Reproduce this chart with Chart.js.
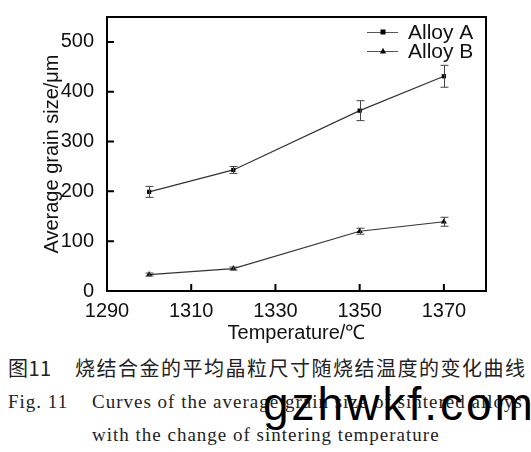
<!DOCTYPE html>
<html>
<head>
<meta charset="utf-8">
<script src="https://cdn.jsdelivr.net/npm/chart.js@4.4.0/dist/chart.umd.min.js"></script>
<style>
  body { margin: 0; background: #fff; width: 531px; height: 452px; position: relative; overflow: hidden; }
  #wrap { position: absolute; left: 0; top: 0; width: 531px; height: 345px; }
  .cap { position: absolute; white-space: nowrap; color: #222; }
  #capZh { left: 8px; top: 356px; font: 20px/24px "Noto Sans CJK SC", sans-serif; letter-spacing: 0.4px; }
  #capZh span { position: absolute; left: 67px; letter-spacing: 1.5px; }
  .en { font: 19px/22px "Liberation Serif", serif; letter-spacing: 1px; }
  #capEn1 { left: 8px; top: 391px; }
  #capEn1 span { position: absolute; left: 84px; }
  #capEn2 { left: 92px; top: 424px; }
  #mark { left: 263px; top: 381px; font: 46px/46px "Liberation Sans", Arial, sans-serif; color: #000; letter-spacing: 3px; }
</style>
</head>
<body>
<div id="wrap"><canvas id="grainChart" width="531" height="345"></canvas></div>
<div class="cap" id="capZh">图11<span>烧结合金的平均晶粒尺寸随烧结温度的变化曲线</span></div>
<div class="cap en" id="capEn1">Fig. 11<span>Curves of the average grain size of sintered alloys</span></div>
<div class="cap en" id="capEn2">with the change of sintering temperature</div>
<div class="cap" id="mark">gzhwkf.com</div>
<script>
// values
const temps = [1300, 1320, 1350, 1370];
const alloyA = [199, 243, 362, 431];
const alloyAErr = [11, 7, 20, 22];
const alloyB = [33, 45, 120, 139];
const alloyBErr = [3, 3, 6, 9];
const xTicks = [1290, 1310, 1330, 1350, 1370];
const yTicks = [0, 100, 200, 300, 400, 500];

Chart.defaults.font.family = '"Liberation Sans", Arial, sans-serif';
Chart.defaults.color = '#111';

const errors = [alloyAErr, alloyBErr];

function marker(ctx, style, x, y, r) {
  ctx.beginPath();
  if (style === 'rect') {
    ctx.rect(x - r, y - r, r * 2, r * 2);
  } else {
    ctx.moveTo(x, y - r * 1.1);
    ctx.lineTo(x + r, y + r * 0.8);
    ctx.lineTo(x - r, y + r * 0.8);
    ctx.closePath();
  }
  ctx.fill();
}

const framePlugin = {
  id: 'framePlugin',
  afterDatasetsDraw(chart) {
    const ctx = chart.ctx;
    const xs = chart.scales.x, ys = chart.scales.y;
    ctx.save();
    ctx.strokeStyle = '#444';
    ctx.lineWidth = 1;
    chart.data.datasets.forEach((ds, i) => {
      ds.data.forEach((p, j) => {
        const e = errors[i][j];
        const px = Math.round(xs.getPixelForValue(p.x)) + 0.5;
        const top = ys.getPixelForValue(p.y + e);
        const bot = ys.getPixelForValue(p.y - e);
        ctx.beginPath();
        ctx.moveTo(px, top); ctx.lineTo(px, bot);
        ctx.moveTo(px - 4, top); ctx.lineTo(px + 4, top);
        ctx.moveTo(px - 4, bot); ctx.lineTo(px + 4, bot);
        ctx.stroke();
      });
    });
    ctx.restore();
  },
  afterDraw(chart) {
    const ctx = chart.ctx;
    const a = chart.chartArea;
    const xs = chart.scales.x, ys = chart.scales.y;
    ctx.save();
    ctx.strokeStyle = '#000';
    ctx.lineWidth = 2;
    ctx.strokeRect(a.left, a.top, a.right - a.left, a.bottom - a.top);
    // inward tick marks
    ctx.beginPath();
    xTicks.forEach(v => {
      const px = xs.getPixelForValue(v);
      ctx.moveTo(px, a.bottom); ctx.lineTo(px, a.bottom - 7);
    });
    yTicks.forEach(v => {
      const py = ys.getPixelForValue(v);
      ctx.moveTo(a.left, py); ctx.lineTo(a.left + 7, py);
    });
    ctx.stroke();

    // legend, top right inside the frame
    ctx.font = '21px "Liberation Sans", Arial, sans-serif';
    ctx.textBaseline = 'middle';
    chart.data.datasets.forEach((ds, i) => {
      const y = a.top + 15 + i * 19;
      const x0 = a.right - 119;
      ctx.strokeStyle = '#555';
      ctx.lineWidth = 1;
      ctx.beginPath();
      ctx.moveTo(x0, y + 0.5); ctx.lineTo(x0 + 31, y + 0.5);
      ctx.stroke();
      ctx.fillStyle = '#000';
      marker(ctx, ds.pointStyle, x0 + 16, y, ds.pointStyle === 'rect' ? 2.5 : 3);
      ctx.fillStyle = '#111';
      ctx.fillText(ds.label, a.right - 78, y + 1);
    });
    ctx.restore();
  }
};

const grainChart = new Chart(document.getElementById('grainChart').getContext('2d'), {
  type: 'line',
  data: {
    datasets: [
      {
        label: 'Alloy A',
        data: temps.map((t, i) => ({ x: t, y: alloyA[i] })),
        borderColor: '#333',
        borderWidth: 1.2,
        pointStyle: 'rect',
        pointRadius: 3,
        pointBackgroundColor: '#000',
        pointBorderColor: '#000',
        pointBorderWidth: 0,
      },
      {
        label: 'Alloy B',
        data: temps.map((t, i) => ({ x: t, y: alloyB[i] })),
        borderColor: '#333',
        borderWidth: 1.2,
        pointStyle: 'triangle',
        pointRadius: 3.5,
        pointBackgroundColor: '#000',
        pointBorderColor: '#000',
        pointBorderWidth: 0,
      },
    ],
  },
  options: {
    responsive: false,
    animation: false,
    events: [],
    layout: { padding: { left: 40, top: 5, right: 45, bottom: 0 } },
    plugins: { legend: { display: false }, tooltip: { enabled: false } },
    scales: {
      x: {
        type: 'linear',
        min: 1290,
        max: 1380,
        afterBuildTicks: s => { s.ticks = xTicks.map(v => ({ value: v })); },
        afterFit: s => { s.height = 54; },
        grid: { display: false },
        border: { display: false },
        ticks: { font: { size: 20 }, padding: 0, maxRotation: 0, callback: v => String(v) },
        title: { display: true, text: 'Temperature/℃', font: { size: 20 }, padding: { top: 0, bottom: 0 } },
      },
      y: {
        min: 0,
        max: 550,
        afterBuildTicks: s => { s.ticks = yTicks.map(v => ({ value: v })); },
        afterFit: s => { s.width = 67; },
        grid: { display: false },
        border: { display: false },
        ticks: { font: { size: 20 }, padding: 5, callback: v => String(v) },
        title: { display: true, text: 'Average grain size/μm', font: { size: 20 }, padding: 0 },
      },
    },
  },
  plugins: [framePlugin],
});
</script>
</body>
</html>
